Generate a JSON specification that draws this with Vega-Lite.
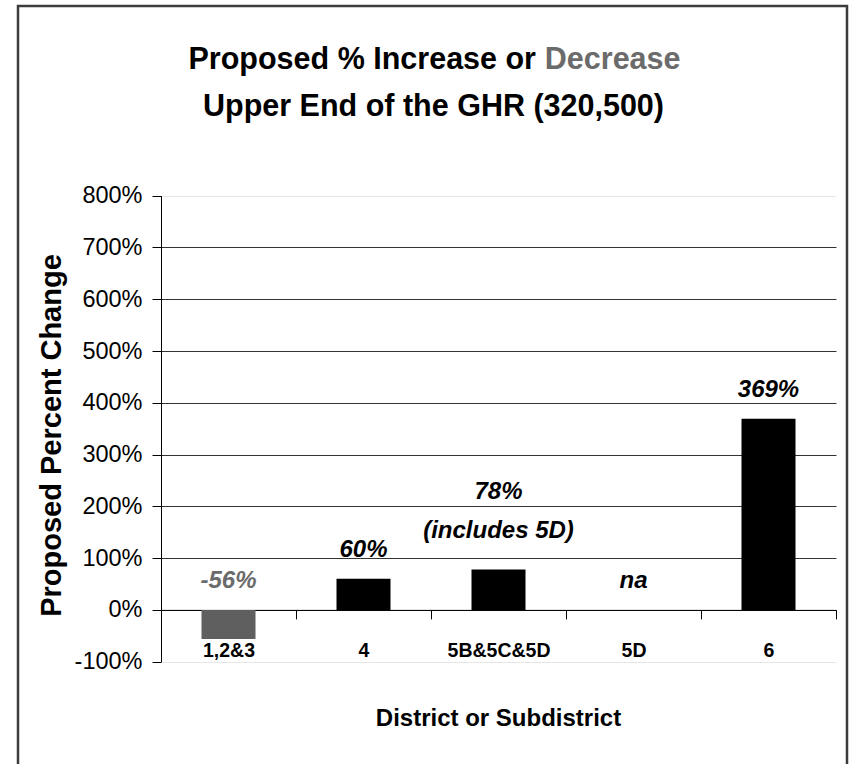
{
  "$schema": "https://vega.github.io/schema/vega-lite/v6.json",
  "width": 829,
  "height": 770,
  "autosize": "none",
  "padding": {"left": 18, "top": 6, "right": 3, "bottom": 0},
  "background": "white",
  "title": {
    "text": "District or Subdistrict",
    "orient": "bottom",
    "anchor": "middle",
    "frame": "group",
    "offset": -50,
    "dx": 66,
    "baseline": "alphabetic",
    "font": "Liberation Sans, Arial, sans-serif",
    "fontSize": 24,
    "fontWeight": "bold",
    "color": "black"
  },
  "data": {
    "values": [
      {"district": "1,2&3", "change": -56, "label": "-56%", "note": null},
      {"district": "4", "change": 60, "label": "60%", "note": null},
      {"district": "5B&5C&5D", "change": 78, "label": "78%", "note": "(includes 5D)"},
      {"district": "5D", "change": null, "label": "na", "note": null},
      {"district": "6", "change": 369, "label": "369%", "note": null}
    ]
  },
  "layer": [
    {
      "mark": {"type": "bar", "width": {"band": 0.4}},
      "encoding": {
        "x": {
          "field": "district",
          "type": "nominal",
          "sort": null,
          "scale": {"domain": ["1,2&3", "4", "5B&5C&5D", "5D", "6"], "range": [143, 818], "paddingInner": 0, "paddingOuter": 0},
          "axis": {
            "orient": "bottom",
            "offset": -166.1,
            "title": "Upper End of the GHR (320,500)",
            "titleFont": "Liberation Sans, Arial, sans-serif",
            "titleFontSize": 30.5,
            "titleFontWeight": "bold",
            "titleColor": "black",
            "titleX": 415,
            "titleY": -494.9,
            "titleAlign": "center",
            "titleBaseline": "alphabetic",
            "titleAngle": 0,
            "labelAngle": 0,
            "labelFont": "Liberation Sans, Arial, sans-serif",
            "labelFontSize": 19.5,
            "labelFontWeight": "bold",
            "labelColor": "black",
            "labelBaseline": "alphabetic",
            "labelPadding": 38,
            "tickBand": "extent",
            "tickSize": 9,
            "tickColor": "black",
            "tickWidth": 1,
            "domainColor": "black",
            "domainWidth": 1,
            "grid": false
          }
        },
        "y": {
          "field": "change",
          "type": "quantitative",
          "scale": {"domain": [-100, 800], "range": [655.7, 189.7], "nice": false},
          "axis": {
            "orient": "left",
            "offset": -143,
            "values": [-100, 0, 100, 200, 300, 400, 500, 600, 700, 800],
            "labelExpr": "datum.value + '%'",
            "labelFont": "Liberation Sans, Arial, sans-serif",
            "labelFontSize": 23.5,
            "labelColor": "black",
            "labelPadding": 10,
            "labelOverlap": false,
            "tickSize": 9,
            "tickColor": "black",
            "tickWidth": 1,
            "domainColor": "black",
            "domainWidth": 1,
            "grid": true,
            "gridColor": {"condition": {"test": "datum.value >= 800 || datum.value <= -100", "value": "#e6e6e6"}, "value": "#333333"},
            "gridOpacity": 1,
            "gridWidth": 1,
            "title": "Proposed Percent Change",
            "titleFont": "Liberation Sans, Arial, sans-serif",
            "titleFontSize": 29,
            "titleFontWeight": "bold",
            "titleColor": "black",
            "titleAngle": 270,
            "titleX": -101,
            "titleY": 429,
            "titleAlign": "center",
            "titleBaseline": "alphabetic"
          }
        },
        "color": {"condition": {"test": "datum.change < 0", "value": "#5f5f5f"}, "value": "black"}
      }
    },
    {
      "transform": [
        {"filter": "datum.note == null"},
        {"calculate": "datum.change == null ? 0 : max(datum.change, 0)", "as": "labelY"}
      ],
      "mark": {
        "type": "text",
        "font": "Liberation Sans, Arial, sans-serif",
        "fontSize": 24,
        "fontWeight": "bold",
        "fontStyle": "italic",
        "baseline": "bottom",
        "align": "center",
        "dy": -17
      },
      "encoding": {
        "x": {
          "field": "district",
          "type": "nominal",
          "sort": null,
          "scale": {"domain": ["1,2&3", "4", "5B&5C&5D", "5D", "6"], "range": [143, 818], "paddingInner": 0, "paddingOuter": 0},
          "axis": {
            "orient": "top",
            "labels": false,
            "ticks": false,
            "domain": false,
            "grid": false,
            "title": "Proposed % Increase or",
            "titleFont": "Liberation Sans, Arial, sans-serif",
            "titleFontSize": 30.5,
            "titleFontWeight": "bold",
            "titleColor": "black",
            "titleX": 170,
            "titleY": 62,
            "titleAlign": "left",
            "titleBaseline": "alphabetic",
            "titleAngle": 0
          }
        },
        "y": {
          "field": "labelY",
          "type": "quantitative",
          "scale": {"domain": [-100, 800], "range": [655.7, 189.7], "nice": false},
          "axis": {
            "orient": "right",
            "labels": false,
            "ticks": false,
            "domain": false,
            "grid": false,
            "title": "Decrease",
            "titleFont": "Liberation Sans, Arial, sans-serif",
            "titleFontSize": 30.5,
            "titleFontWeight": "bold",
            "titleColor": "#6b6b6b",
            "titleAngle": 0,
            "titleX": -167,
            "titleY": 62,
            "titleAlign": "right",
            "titleBaseline": "alphabetic"
          }
        },
        "text": {"field": "label"},
        "color": {"condition": {"test": "datum.change < 0", "value": "#6b6b6b"}, "value": "black"}
      }
    },
    {
      "transform": [{"filter": "datum.note != null"}],
      "mark": {
        "type": "text",
        "font": "Liberation Sans, Arial, sans-serif",
        "fontSize": 24,
        "fontWeight": "bold",
        "fontStyle": "italic",
        "baseline": "bottom",
        "align": "center",
        "dy": -27,
        "color": "black"
      },
      "encoding": {
        "x": {"field": "district", "type": "nominal", "sort": null, "axis": null},
        "y": {"field": "change", "type": "quantitative", "axis": null},
        "text": {"field": "note"}
      }
    },
    {
      "transform": [{"filter": "datum.note != null"}],
      "mark": {
        "type": "text",
        "font": "Liberation Sans, Arial, sans-serif",
        "fontSize": 24,
        "fontWeight": "bold",
        "fontStyle": "italic",
        "baseline": "bottom",
        "align": "center",
        "dy": -66,
        "color": "black"
      },
      "encoding": {
        "x": {"field": "district", "type": "nominal", "sort": null, "axis": null},
        "y": {"field": "change", "type": "quantitative", "axis": null},
        "text": {"field": "label"}
      }
    }
  ],
  "resolve": {"axis": {"x": "independent", "y": "independent"}},
  "config": {
    "view": {"stroke": "#3c3c3c", "strokeWidth": 2.5, "fill": "white"}
  }
}
